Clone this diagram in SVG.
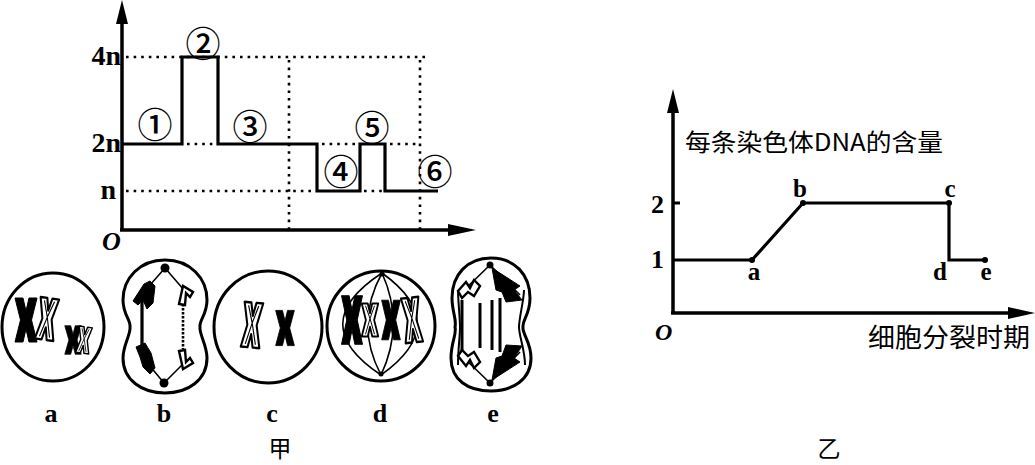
<svg xmlns="http://www.w3.org/2000/svg" xmlns:xlink="http://www.w3.org/1999/xlink" width="1035" height="465" viewBox="0 0 1035 465">
<style>
.ax{stroke:#000;stroke-width:3.5;fill:none}
.cv{stroke:#000;stroke-width:3.2;fill:none;stroke-linejoin:miter}
.dot{stroke:#000;stroke-width:2.6;fill:none;stroke-dasharray:2.6 5}
.lbl{font-family:"Liberation Serif",serif;font-weight:bold;fill:#000}
.ital{font-family:"Liberation Serif",serif;font-style:italic;font-weight:bold;fill:#000}
.circ{font-family:"Noto Sans CJK SC",sans-serif;font-weight:500;fill:#000;text-anchor:middle}
.cjk{font-family:"Noto Sans CJK SC",sans-serif;fill:#000}
.cell{stroke:#000;stroke-width:3;fill:#fff}
.sp{stroke:#000;stroke-width:1.6;fill:none}
.blk{fill:#000;stroke:#000;stroke-width:1}
.wht{fill:#fff;stroke:#000;stroke-width:2.4}
.thin{stroke:#000;stroke-width:1.3;fill:none}
</style>
<defs>
<path id="xs" d="M-11,-22 L-3,-22 L0,-9 L3,-22 L11,-22 L5.5,0 L11,22 L3,22 L0,9 L-3,22 L-11,22 L-5.5,0 Z"/>
<g id="xb"><use xlink:href="#xs" class="blk" stroke-linejoin="round"/></g>
<g id="xw"><use xlink:href="#xs" class="wht" stroke-linejoin="round" vector-effect="non-scaling-stroke"/><path class="thin" d="M-6,-19 L0,-2 L-6,19 M6,-19 L0,-2 L6,19"/></g>
</defs>

<!-- 甲 graph -->
<g id="graph-jia">
<g id="axes-jia">
<line class="ax" x1="122" y1="20" x2="122" y2="231"/>
<line class="ax" x1="120" y1="230" x2="450" y2="230"/>
<polygon points="122,0 116,24 128,24" fill="#000"/>
<polygon points="476,230 448,224 448,236" fill="#000"/>
</g>
<g id="grid-jia">
<line class="dot" x1="126" y1="57" x2="428" y2="57"/>
<line class="dot" x1="289" y1="60" x2="289" y2="230"/>
<line class="dot" x1="420" y1="60" x2="420" y2="230"/>
<line class="dot" x1="187" y1="144" x2="216" y2="144"/>
<line class="dot" x1="322" y1="144" x2="356" y2="144"/>
<line class="dot" x1="390" y1="144" x2="420" y2="144"/>
<line class="dot" x1="126" y1="191" x2="315" y2="191"/>
<line class="dot" x1="364" y1="191" x2="384" y2="191"/>
</g>
<g id="curve-jia">
<polyline class="cv" points="122,144 182,144 182,57 218,57 218,144 317,144 317,191 360,191 360,144 385,144 385,191 438,191"/>
</g>
<g id="ticks-jia">
<text class="lbl" x="121" y="65" font-size="28" text-anchor="end">4n</text>
<text class="lbl" x="121" y="152" font-size="28" text-anchor="end">2n</text>
<text class="lbl" x="116" y="199" font-size="28" text-anchor="end">n</text>
<text class="ital" x="102" y="250" font-size="26">O</text>
</g>
<g id="stages-jia">
<text class="circ" x="155" y="138" font-size="35">①</text>
<text class="circ" x="203" y="57" font-size="35">②</text>
<text class="circ" x="250" y="140" font-size="35">③</text>
<text class="circ" x="341" y="185" font-size="35">④</text>
<text class="circ" x="372" y="141" font-size="35">⑤</text>
<text class="circ" x="435" y="185" font-size="35">⑥</text>
</g>
</g>

<!-- cells -->
<g id="cell-a">
<ellipse class="cell" cx="53" cy="327" rx="51" ry="54"/>
<use xlink:href="#xb" transform="translate(26,320) scale(1,1)"/>
<use xlink:href="#xw" transform="translate(47,319) rotate(8) scale(0.85,0.95)"/>
<use xlink:href="#xb" transform="translate(73,340) scale(0.75,0.65)"/>
<use xlink:href="#xw" transform="translate(84,340) rotate(8) scale(0.6,0.6)"/>
<text class="lbl" x="51" y="422" font-size="26" text-anchor="middle">a</text>
</g>

<g id="cell-b">
<path class="cell" d="M165,260 C190,260 207,278 207,300 C207,315 199,320 200,327 C199,334 207,345 207,358 C207,380 188,393 165,393 C142,393 123,380 123,358 C123,345 131,334 130,327 C131,320 123,315 123,300 C123,278 140,260 165,260 Z"/>
<circle cx="165" cy="268" r="4.5"/>
<circle cx="164" cy="383" r="4.5"/>
<path class="sp" d="M165,268 L150,285 M165,268 L184,290 M164,383 L149,365 M164,383 L184,363" stroke-width="2.2"/>
<line x1="142" y1="292" x2="142" y2="356" stroke="#000" stroke-width="3.2"/>
<path class="blk" d="M133,301 L144,284 L150,281 L155,286 L153,303 L147,309 L143,300 L138,305 Z"/>
<path class="blk" d="M136,347 L145,343 L151,353 L155,368 L150,374 L143,367 L140,357 Z"/>
<line x1="183" y1="304" x2="183" y2="349" stroke="#000" stroke-width="2.6" stroke-dasharray="2.5 1.5"/>
<path class="wht" d="M179,304 L183,286 L193,292 L190,297 L186,293 L185,305 Z" stroke-width="2"/>
<path class="wht" d="M179,351 L183,369 L193,363 L190,358 L186,362 L185,350 Z" stroke-width="2"/>
<text class="lbl" x="164" y="422" font-size="26" text-anchor="middle">b</text>
</g>

<g id="cell-c">
<ellipse class="cell" cx="268" cy="327" rx="54" ry="56"/>
<use xlink:href="#xw" transform="translate(252,325) rotate(5) scale(0.85,1.02)"/>
<use xlink:href="#xb" transform="translate(285,328) scale(0.85,0.8)"/>
<text class="lbl" x="272" y="422" font-size="26" text-anchor="middle">c</text>
</g>

<g id="cell-d">
<ellipse class="cell" cx="381" cy="326" rx="54" ry="55"/>
<path class="sp" d="M382,273 Q304,324 381,375 M382,273 Q354,324 381,375 M382,273 Q405,324 381,375 M382,273 Q453,324 381,375"/>
<circle cx="382" cy="274" r="2.5"/>
<circle cx="381" cy="374" r="2.5"/>
<use xlink:href="#xb" transform="translate(352,320) scale(0.95,1.1)"/>
<use xlink:href="#xw" transform="translate(370,320) scale(0.75,0.75)"/>
<use xlink:href="#xb" transform="translate(391,320) scale(0.85,0.9)"/>
<use xlink:href="#xw" transform="translate(412,320) rotate(-6) scale(0.8,1.02)"/>
<text class="lbl" x="380" y="422" font-size="26" text-anchor="middle">d</text>
</g>

<g id="cell-e">
<path class="cell" d="M491,258 C515,258 530,275 530,298 C530,315 522,320 523,327 C522,334 531,342 531,358 C531,380 512,391 491,391 C468,391 451,380 451,358 C451,342 457,334 455,327 C457,320 452,312 452,298 C452,275 467,258 491,258 Z"/>
<path d="M458,290 C458,300 460,318 460,327 C460,336 458,350 458,365 M524,290 C524,300 519,318 519,327 C519,336 525,350 525,365" stroke="#000" stroke-width="2" fill="none"/>
<circle cx="490" cy="265" r="3.5"/>
<circle cx="490" cy="383" r="3.5"/>
<path class="sp" d="M490,265 L462,292 M490,265 L520,295 M490,383 L462,356 M490,383 L520,352" stroke-width="2"/>
<path d="M462,300 L462,352 M480,303 L480,348 M492,300 L492,350 M500,298 L500,352" stroke="#000" stroke-width="3" fill="none"/>
<path class="blk" d="M492,268 L520,286 L514,290 L522,300 L506,302 L502,292 L496,290 Z"/>
<path class="blk" d="M492,380 L520,362 L514,358 L522,346 L506,345 L502,356 L496,358 Z"/>
<path class="wht" d="M458,291 L466,282 L470,288 L474,280 L480,286 L474,296 L468,292 L462,298 Z" stroke-width="1.6"/>
<path class="wht" d="M458,356 L466,366 L470,360 L474,368 L480,362 L474,352 L468,356 L462,350 Z" stroke-width="1.6"/>
<text class="lbl" x="493" y="422" font-size="26" text-anchor="middle">e</text>
</g>

<g id="caption-jia"><text class="cjk" x="280" y="457" font-size="23" text-anchor="middle">甲</text></g>

<!-- 乙 graph -->
<g id="graph-yi">
<g id="axes-yi">
<line class="ax" x1="673" y1="110" x2="673" y2="314"/>
<line class="ax" x1="671" y1="313" x2="1012" y2="313"/>
<polygon points="673,89 667,113 679,113" fill="#000"/>
<polygon points="1035,313 1008,307 1008,319" fill="#000"/>
<line x1="673" y1="203" x2="680" y2="203" stroke="#000" stroke-width="3"/>
</g>
<g id="curve-yi">
<polyline class="cv" points="673,260 752,260 803,203 949,203 949,260 985,260"/>
<circle cx="752" cy="260" r="3"/>
<circle cx="803" cy="203" r="3"/>
<circle cx="949" cy="203" r="3"/>
<circle cx="985" cy="260" r="3"/>
</g>
<g id="labels-yi">
<text class="cjk" x="685" y="151" font-size="24" textLength="258" lengthAdjust="spacingAndGlyphs">每条染色体DNA的含量</text>
<text class="cjk" x="868" y="347" font-size="26" textLength="162" lengthAdjust="spacingAndGlyphs">细胞分裂时期</text>
<text class="lbl" x="664" y="213" font-size="26" text-anchor="end">2</text>
<text class="lbl" x="664" y="268" font-size="26" text-anchor="end">1</text>
<text class="ital" x="655" y="340" font-size="24">O</text>
<text class="lbl" x="800" y="197" font-size="25" text-anchor="middle">b</text>
<text class="lbl" x="950" y="197" font-size="25" text-anchor="middle">c</text>
<text class="lbl" x="754" y="280" font-size="25" text-anchor="middle">a</text>
<text class="lbl" x="940" y="280" font-size="25" text-anchor="middle">d</text>
<text class="lbl" x="986" y="280" font-size="25" text-anchor="middle">e</text>
</g>
</g>
<g id="caption-yi"><text class="cjk" x="829" y="457" font-size="23" text-anchor="middle">乙</text></g>
</svg>
